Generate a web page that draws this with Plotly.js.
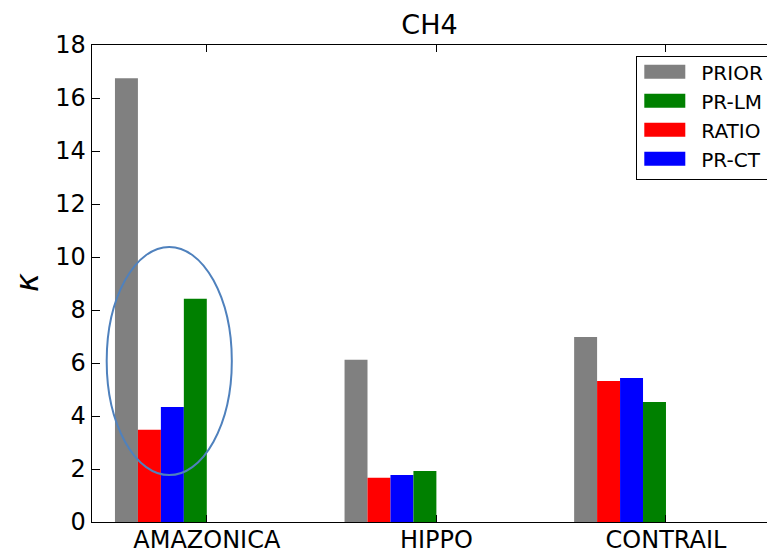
<!DOCTYPE html>
<html>
<head>
<meta charset="utf-8">
<script src="https://cdn.plot.ly/plotly-3.0.1.min.js"></script>
<style>html,body{margin:0;padding:0;background:#fff;}#chart{width:767px;height:554px;}</style>
</head>
<body>
<div id="chart"></div>
<script>
// Data
const categories = ["AMAZONICA", "HIPPO", "CONTRAIL"];
const seriesNames = ["PRIOR", "RATIO", "PR-CT", "PR-LM"];
const prior = [16.75, 6.12, 6.98];
const ratio = [3.48, 1.67, 5.32];
const prCt = [4.34, 1.77, 5.43];
const prLm = [8.42, 1.92, 4.53];
const seriesColors = ["#808080", "#ff0000", "#0000ff", "#008000"];
const legendRanks = [1, 3, 4, 2];
const yTicks = [0, 2, 4, 6, 8, 10, 12, 14, 16, 18];

const values = [prior, ratio, prCt, prLm];
const barWidth = 0.1;
const font = "DejaVu Sans, Liberation Sans, sans-serif";

const traces = seriesNames.map((name, i) => ({
  type: "bar",
  name: name,
  x: categories,
  y: values[i],
  width: barWidth,
  offset: -0.4 + i * barWidth,
  marker: {color: seriesColors[i], line: {width: 0}},
  legendrank: legendRanks[i],
  legendgroup: name
}));

const layout = {
  width: 767,
  height: 554,
  margin: {l: 92, r: 0, t: 45, b: 32, autoexpand: false},
  paper_bgcolor: "#fff",
  plot_bgcolor: "#fff",
  barmode: "overlay",
  showlegend: true,
  font: {family: font, color: "#000"},
  title: {
    text: "CH4",
    font: {family: font, size: 27, color: "#000"},
    x: 0.5 + 92 / 767 / 2, xanchor: "center",
    y: 1 - 25 / 554, yanchor: "middle", yref: "container"
  },
  xaxis: {
    type: "category",
    range: [-0.5, 2.44],
    showline: true, linecolor: "#000", linewidth: 1.3,
    mirror: "ticks",
    ticks: "inside", ticklen: 7, tickwidth: 1, tickcolor: "#000",
    tickfont: {family: font, size: 24, color: "#000"},
    ticklabelstandoff: -4,
    showgrid: false, zeroline: false, fixedrange: true
  },
  yaxis: {
    range: [0, 18],
    tickvals: yTicks,
    ticktext: yTicks.map(String),
    showline: true, linecolor: "#000", linewidth: 1.3,
    mirror: false,
    ticks: "inside", ticklen: 8, tickwidth: 1, tickcolor: "#000",
    tickfont: {family: font, size: 24, color: "#000"},
    showgrid: false, zeroline: false, fixedrange: true
  },
  annotations: [{
    text: "<i>κ</i>", textangle: -90,
    xref: "paper", yref: "paper",
    x: (27 - 92) / 675, y: (522 - 283) / 477,
    xanchor: "center", yanchor: "middle", showarrow: false,
    font: {family: font, size: 32, color: "#000"}
  }],
  legend: {
    x: (636 - 92) / 675, xanchor: "left",
    y: (522 - 51) / 477, yanchor: "top",
    bgcolor: "#fff", bordercolor: "#000", borderwidth: 1.3,
    font: {family: font, size: 20, color: "#000"},
    traceorder: "grouped", tracegroupgap: 0,
    itemwidth: 54
  },
  shapes: [{
    type: "circle", xref: "x", yref: "y",
    x0: -0.436, x1: 0.109, y0: 1.77, y1: 10.38,
    line: {color: "#4f81bd", width: 2}
  }]
};

Plotly.newPlot("chart", traces, layout, {staticPlot: true}).then(() => {
  document.querySelectorAll(".legend .legendpoints path").forEach(p => {
    p.setAttribute("d", "M-25,7H16V-7H-25Z");
  });
  const bg = document.querySelector(".legend rect.bg");
  if (bg) {
    const y = parseFloat(bg.getAttribute("y") || "0");
    const h = parseFloat(bg.getAttribute("height"));
    bg.setAttribute("y", y + 5);
    bg.setAttribute("height", h - 5);
    bg.setAttribute("width", 220);
  }
});
</script>
</body>
</html>
